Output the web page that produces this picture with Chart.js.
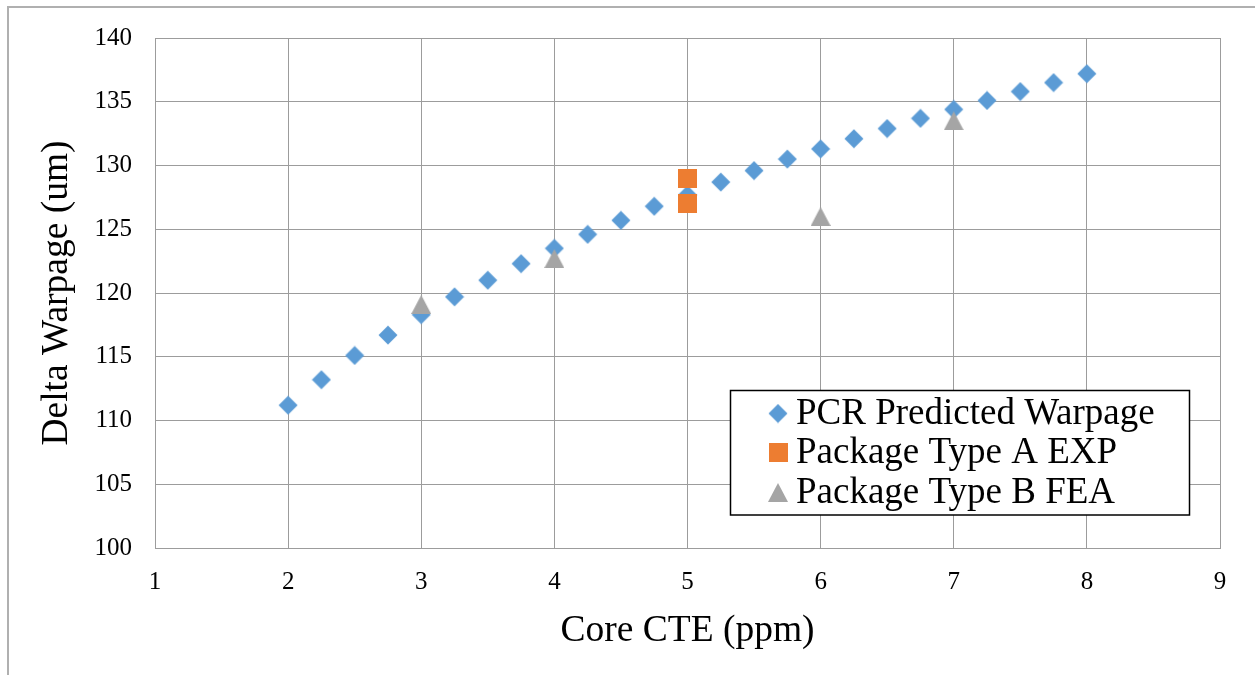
<!DOCTYPE html>
<html>
<head>
<meta charset="utf-8">
<title>Delta Warpage vs Core CTE</title>
<script src="https://cdn.jsdelivr.net/npm/chart.js@4/dist/chart.umd.min.js"></script>
<style>
  html, body { margin: 0; padding: 0; background: #ffffff; }
  #wrap { width: 1255px; height: 675px; position: relative; }
  canvas { display: block; }
</style>
</head>
<body>
<div id="wrap"><canvas id="chart" width="1255" height="675"></canvas></div>
<script>
// Core CTE (ppm) steps of the PCR prediction
const cteSteps = [2, 2.25, 2.5, 2.75, 3, 3.25, 3.5, 3.75, 4, 4.25, 4.5, 4.75, 5,
                  5.25, 5.5, 5.75, 6, 6.25, 6.5, 6.75, 7, 7.25, 7.5, 7.75, 8];
// PCR predicted delta warpage (um)
const pcrWarpage = [111.2, 113.2, 115.1, 116.7, 118.3, 119.7, 121.0, 122.3, 123.5,
                    124.6, 125.7, 126.8, 127.7, 128.7, 129.6, 130.5, 131.3, 132.1,
                    132.9, 133.7, 134.4, 135.1, 135.8, 136.5, 137.2];
// Package Type A experiment
const expCte = [5, 5];
const expWarpage = [129.0, 127.0];
// Package Type B simulation
const feaCte = [3, 4, 6, 7];
const feaWarpage = [119.1, 122.7, 126.0, 133.5];

const seriesNames = ['PCR Predicted Warpage', 'Package Type A EXP', 'Package Type B FEA'];
const xTicks = [1, 2, 3, 4, 5, 6, 7, 8, 9];
const yTicks = [100, 105, 110, 115, 120, 125, 130, 135, 140];

const BLUE = '#5b9bd5', ORANGE = '#ed7d31', GRAY = '#a5a5a5';
const GRID = '#9c9c9c';
const SERIF = "'Liberation Serif', 'Times New Roman', serif";

// Marker glyphs drawn once and reused for points and legend
function makeMarker(w, h, color, draw) {
  const c = document.createElement('canvas');
  c.width = w; c.height = h;
  const g = c.getContext('2d');
  g.fillStyle = color;
  g.beginPath();
  draw(g, w, h);
  g.closePath();
  g.fill();
  return c;
}
const diamond = makeMarker(20, 20, BLUE, (g, w, h) => {
  g.moveTo(w / 2, 0.5); g.lineTo(w - 0.5, h / 2); g.lineTo(w / 2, h - 0.5); g.lineTo(0.5, h / 2);
});
const square = makeMarker(19, 19, ORANGE, (g, w, h) => { g.rect(0, 0, w, h); });
const triangle = makeMarker(20, 19, GRAY, (g, w, h) => {
  g.moveTo(w / 2, 0); g.lineTo(w, h); g.lineTo(0, h);
});
const markers = [diamond, square, triangle];

const toPoints = (xs, ys) => xs.map((x, i) => ({ x: x, y: ys[i] }));

// Page frame plus boxed legend inside the plot
const decorations = {
  id: 'decorations',
  beforeDraw(chart) {
    const ctx = chart.ctx;
    ctx.save();
    ctx.fillStyle = '#ffffff';
    ctx.fillRect(0, 0, chart.width, chart.height);
    ctx.strokeStyle = '#b0b0b0';
    ctx.lineWidth = 2;
    ctx.strokeRect(8, 7, chart.width + 20, chart.height + 20);
    ctx.restore();
  },
  afterDraw(chart) {
    const ctx = chart.ctx;
    ctx.save();
    const bx = 730.5, by = 390.5, bw = 459, bh = 124.5;
    ctx.fillStyle = '#ffffff';
    ctx.fillRect(bx, by, bw, bh);
    ctx.strokeStyle = '#000000';
    ctx.lineWidth = 1.5;
    ctx.strokeRect(bx, by, bw, bh);
    const rows = [413.5, 452.5, 492.5];
    ctx.font = '37px ' + SERIF;
    ctx.fillStyle = '#000000';
    ctx.textBaseline = 'middle';
    ctx.textAlign = 'left';
    chart.data.datasets.forEach((ds, i) => {
      const m = markers[i];
      ctx.drawImage(m, 778 - m.width / 2, rows[i] - m.height / 2);
      ctx.fillText(ds.label, 796, rows[i] + 1);
    });
    ctx.restore();
  }
};

new Chart(document.getElementById('chart'), {
  type: 'scatter',
  data: {
    datasets: [
      { label: seriesNames[0], data: toPoints(cteSteps, pcrWarpage), pointStyle: diamond, order: 2 },
      { label: seriesNames[1], data: toPoints(expCte, expWarpage), pointStyle: square, order: 1 },
      { label: seriesNames[2], data: toPoints(feaCte, feaWarpage), pointStyle: triangle, order: 0 }
    ]
  },
  options: {
    responsive: false,
    animation: false,
    devicePixelRatio: 1,
    layout: { padding: { left: 0, top: 37, right: 35, bottom: 0 } },
    plugins: {
      legend: { display: false },
      tooltip: { enabled: false },
      title: { display: false }
    },
    elements: { point: { radius: 10, hoverRadius: 10 } },
    scales: {
      x: {
        type: 'linear',
        min: xTicks[0],
        max: xTicks[xTicks.length - 1],
        afterBuildTicks(scale) { scale.ticks = xTicks.map(v => ({ value: v })); },
        afterFit(scale) { scale.height = 127; },
        grid: { color: GRID, lineWidth: 1, drawTicks: false },
        border: { color: GRID, width: 1 },
        ticks: { color: '#000000', padding: 19, font: { family: SERIF, size: 25 } },
        title: {
          display: true, text: 'Core CTE (ppm)', color: '#000000',
          font: { family: SERIF, size: 37.5 }, padding: 21.5
        }
      },
      y: {
        type: 'linear',
        min: yTicks[0],
        max: yTicks[yTicks.length - 1],
        afterBuildTicks(scale) { scale.ticks = yTicks.map(v => ({ value: v })); },
        afterFit(scale) { scale.width = 155; },
        grid: { color: GRID, lineWidth: 1, drawTicks: false },
        border: { color: GRID, width: 1 },
        ticks: { color: '#000000', padding: 23, font: { family: SERIF, size: 25 } },
        title: {
          display: true, text: 'Delta Warpage (um)', color: '#000000',
          font: { family: SERIF, size: 37.5 }, padding: 35
        }
      }
    }
  },
  plugins: [decorations]
});
</script>
</body>
</html>
